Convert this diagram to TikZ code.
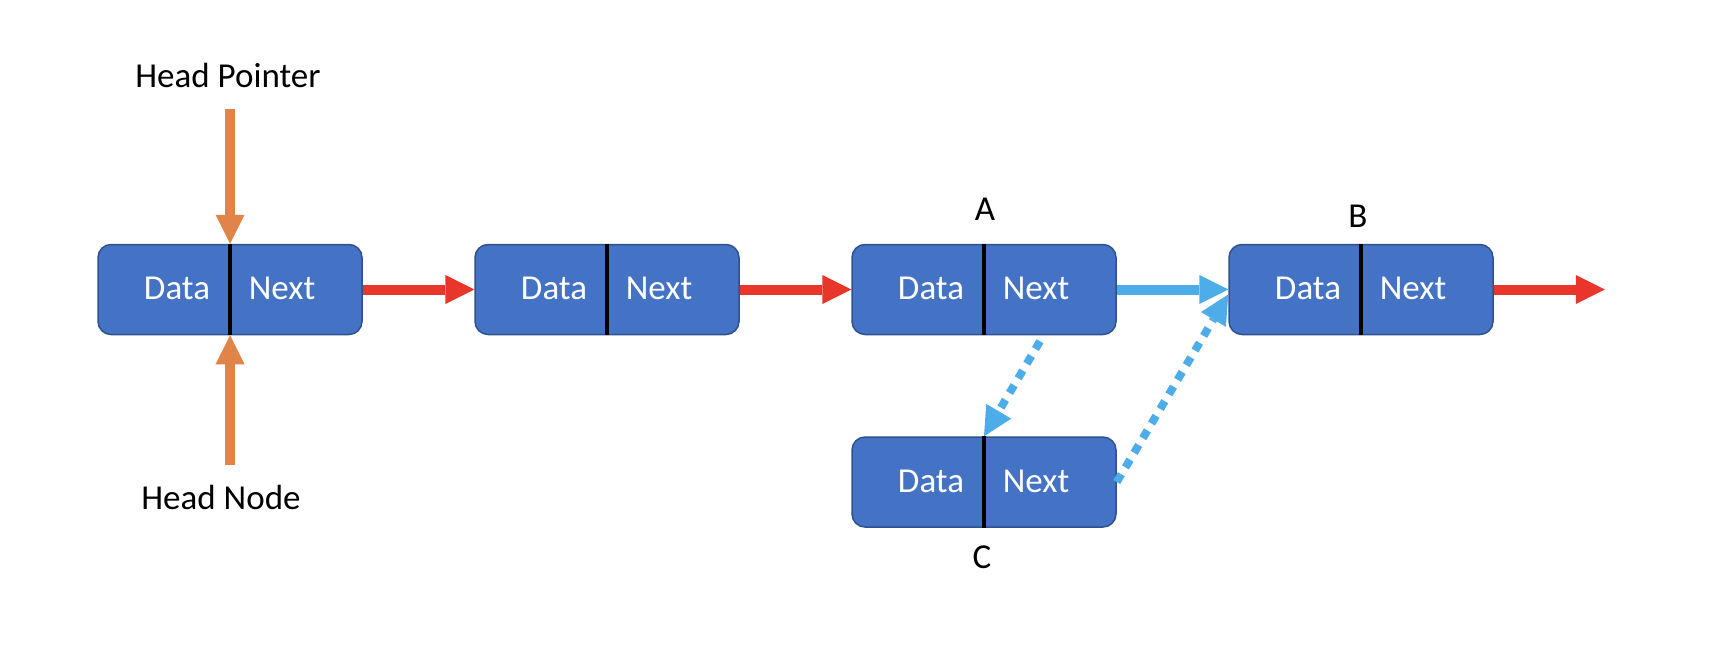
\documentclass[tikz,border=0pt]{standalone}
\usepackage{fontspec}
\setmainfont{Carlito}
\usepackage{xcolor}
\usetikzlibrary{arrows.meta, positioning, calc}

\definecolor{cellblue}{HTML}{4472C4}
\definecolor{celledge}{HTML}{2F528F}
\definecolor{linkred}{HTML}{E8362A}
\definecolor{headorange}{HTML}{E0844A}
\definecolor{insertblue}{HTML}{4DADE8}

\begin{document}
\begin{tikzpicture}[
			x=1pt, y=-1pt,
			node distance=101pt and 111.5pt,
			every node/.style={font=\fontsize{35}{42}\selectfont},
			cell/.style={
				rectangle, rounded corners=13pt,
				draw=celledge, fill=cellblue,
				line width=1.5pt, inner sep=0pt,
				minimum width=264pt, minimum height=90pt
			},
			field/.style={text=white, inner sep=0pt, anchor=base},
			tag/.style={inner sep=0pt},
			divider/.style={line width=3.3pt, draw=black},
			link/.style={
				-{Triangle[length=29pt,width=29pt,line width=0pt]},
				line width=10pt, draw=#1
			},
			newlink/.style={
				link=insertblue, line width=8pt,
				dash pattern=on 9pt off 8pt
			}
			]
			
			\useasboundingbox (0,0) rectangle (1722,658);
			
			% Main list
			\node[cell] (n1) at (230,289.5) {};
			\node[cell, right=of n1] (n2) {};
			\node[cell, right=of n2] (nA) {};
			\node[cell, right=of nA] (nB) {};
			
			% Inserted node
			\node[cell, below=of nA] (nC) {};
			
			% Fields
			\foreach \n in {n1,n2,nA,nB,nC} {
				\draw[divider] (\n.north) -- (\n.south);
				\node[field] (\n d) at ($(\n.center)+(-53,10)$) {Data};
				\node[field] (\n n) at ($(\n.center)+(52,10)$)  {Next};
			}
			
			% Labels
			\node[tag, above=23pt of nA, xshift=1pt]  (labA) {A};
			\node[tag, above=16pt of nB, xshift=-3pt] (labB) {B};
			\node[tag, below=18pt of nC, xshift=-2pt] (labC) {C};
			
			% Head pointer / head node
			\coordinate (hptop) at ($(n1.north)+(0,-135)$);
			\coordinate (hnbot) at ($(n1.south)+(0,130)$);
			\node[tag, above=21pt of hptop, xshift=-2pt] (hptr) {Head Pointer};
			\node[tag, below=20pt of hnbot, xshift=-9pt] (hnode) {Head Node};
			\draw[link=headorange] (hptop) -- (n1.north);
			\draw[link=headorange] (hnbot) -- (n1.south);
			
			% Arrows
			\coordinate (tail) at ($(nB.east)+(111,0)$);
			\draw[link=linkred] (n1.east) -- (n2.west);
			\draw[link=linkred] (n2.east) -- (nA.west);
			\draw[link=linkred] (nB.east) -- (tail);
			\draw[link=insertblue] (nA.east) -- (nB.west);
			
			% Insertion
			\draw[newlink] ($(nA.south)+(56,6)$) -- (nC.north);
			\draw[newlink] (nC.east) -- ($(nB.west)+(0,5)$);
			
		\end{tikzpicture}
\end{document}
